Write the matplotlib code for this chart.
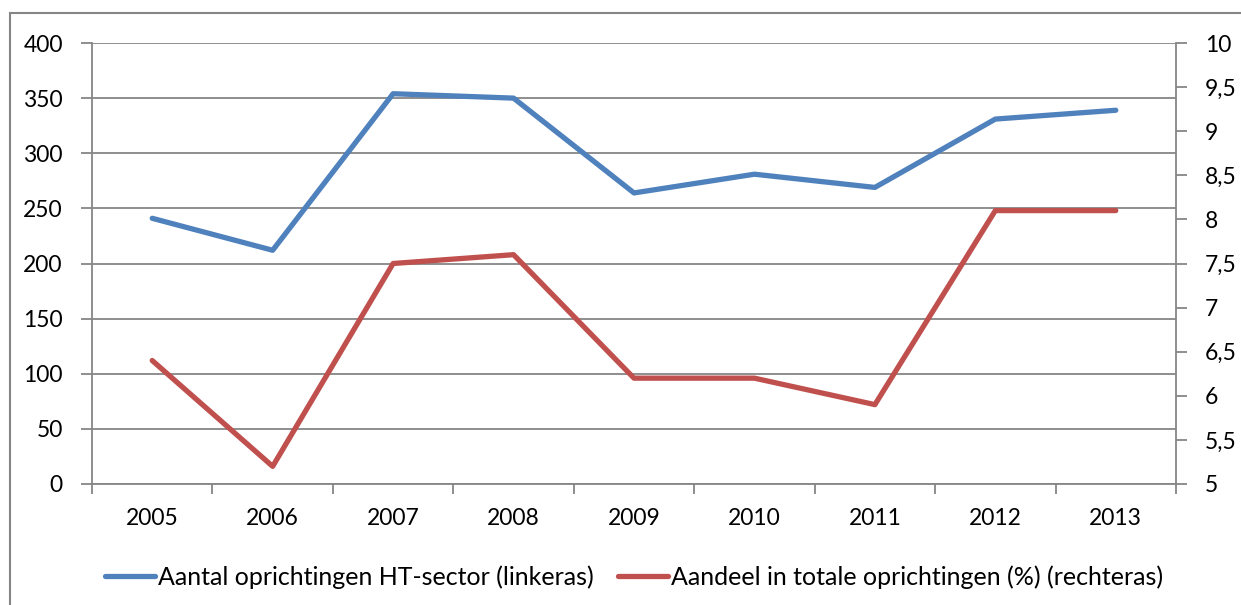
import matplotlib
matplotlib.use("Agg")
import matplotlib.pyplot as plt
from matplotlib.patches import Rectangle
from matplotlib.lines import Line2D
import numpy as np

years = ["2005", "2006", "2007", "2008", "2009", "2010", "2011", "2012", "2013"]
aantal = [241, 212, 354, 350, 264, 281, 269, 331, 339]
aandeel = [6.4, 5.2, 7.5, 7.6, 6.2, 6.2, 5.9, 8.1, 8.1]
left_ticks = [0, 50, 100, 150, 200, 250, 300, 350, 400]
right_ticks = [5, 5.5, 6, 6.5, 7, 7.5, 8, 8.5, 9, 9.5, 10]
label_blue = "Aantal oprichtingen HT-sector (linkeras)"
label_red = "Aandeel in totale oprichtingen (%) (rechteras)"

W, H = 1241, 605
fig = plt.figure(figsize=(W / 100, H / 100), dpi=100)
plt.rcParams['font.family'] = ['Lato', 'DejaVu Sans']

gray = "#868686"
blue = "#4F81BD"
red = "#C0504D"
fs = 16.5
lfs = 18

# outer border (left + top visible)
fig.patches.append(Rectangle((10 / W, -0.1), 1.2, (H - 13) / H + 0.1, transform=fig.transFigure,
                             fill=False, edgecolor=gray, linewidth=1.5))

x0, x1, ytop, ybot = 92, 1176, 43, 484
ax = fig.add_axes([x0 / W, 1 - ybot / H, (x1 - x0) / W, (ybot - ytop) / H])
ax2 = ax.twinx()

n = len(years)
xs = np.arange(n)
ax.set_xlim(-0.5, n - 0.5)
ax.set_ylim(0, 400)
ax2.set_ylim(5, 10)

ax.plot(xs, aantal, color=blue, linewidth=3.8, solid_capstyle='round', solid_joinstyle='round', zorder=3)
ax2.plot(xs, aandeel, color=red, linewidth=3.8, solid_capstyle='round', solid_joinstyle='round', zorder=3)

ax.set_yticks(left_ticks)
ax.set_yticklabels([str(t) for t in left_ticks], fontsize=fs)
ax2.set_yticks(right_ticks)
ax2.set_yticklabels([("%g" % t).replace(".", ",") for t in right_ticks], fontsize=fs)

ax.set_xticks(np.arange(-0.5, n, 1.0))
ax.set_xticklabels([])
ax.set_xticks(xs, minor=True)
ax.set_xticklabels(years, minor=True, fontsize=fs)
ax.tick_params(axis='x', which='minor', length=0, pad=17)
ax.tick_params(axis='x', which='major', length=7, width=1.3, color=gray, direction='out')
ax.tick_params(axis='y', length=8, width=1.3, color=gray, direction='out', pad=13)
ax2.tick_params(axis='y', length=8, width=1.3, color=gray, direction='out', pad=13)

ax.grid(axis='y', color=gray, linewidth=1.3)
for a in (ax, ax2):
    for s in a.spines.values():
        s.set_visible(False)
ax.spines['left'].set_visible(True)
ax.spines['left'].set_color(gray)
ax.spines['left'].set_linewidth(1.3)
ax.spines['bottom'].set_visible(True)
ax.spines['bottom'].set_color(gray)
ax.spines['bottom'].set_linewidth(1.3)
ax2.spines['right'].set_visible(True)
ax2.spines['right'].set_color(gray)
ax2.spines['right'].set_linewidth(1.3)
ax.set_axisbelow(True)

handles = [Line2D([], [], color=blue, linewidth=3.8, solid_capstyle='round'),
           Line2D([], [], color=red, linewidth=3.8, solid_capstyle='round')]
fig.legend(handles, [label_blue, label_red], loc='center', bbox_to_anchor=(0.511, 1 - 577 / H),
           ncol=2, frameon=False, fontsize=lfs, handlelength=2.0, handletextpad=0.1,
           columnspacing=1.0, borderpad=0)

fig.savefig("out.png", dpi=100)
